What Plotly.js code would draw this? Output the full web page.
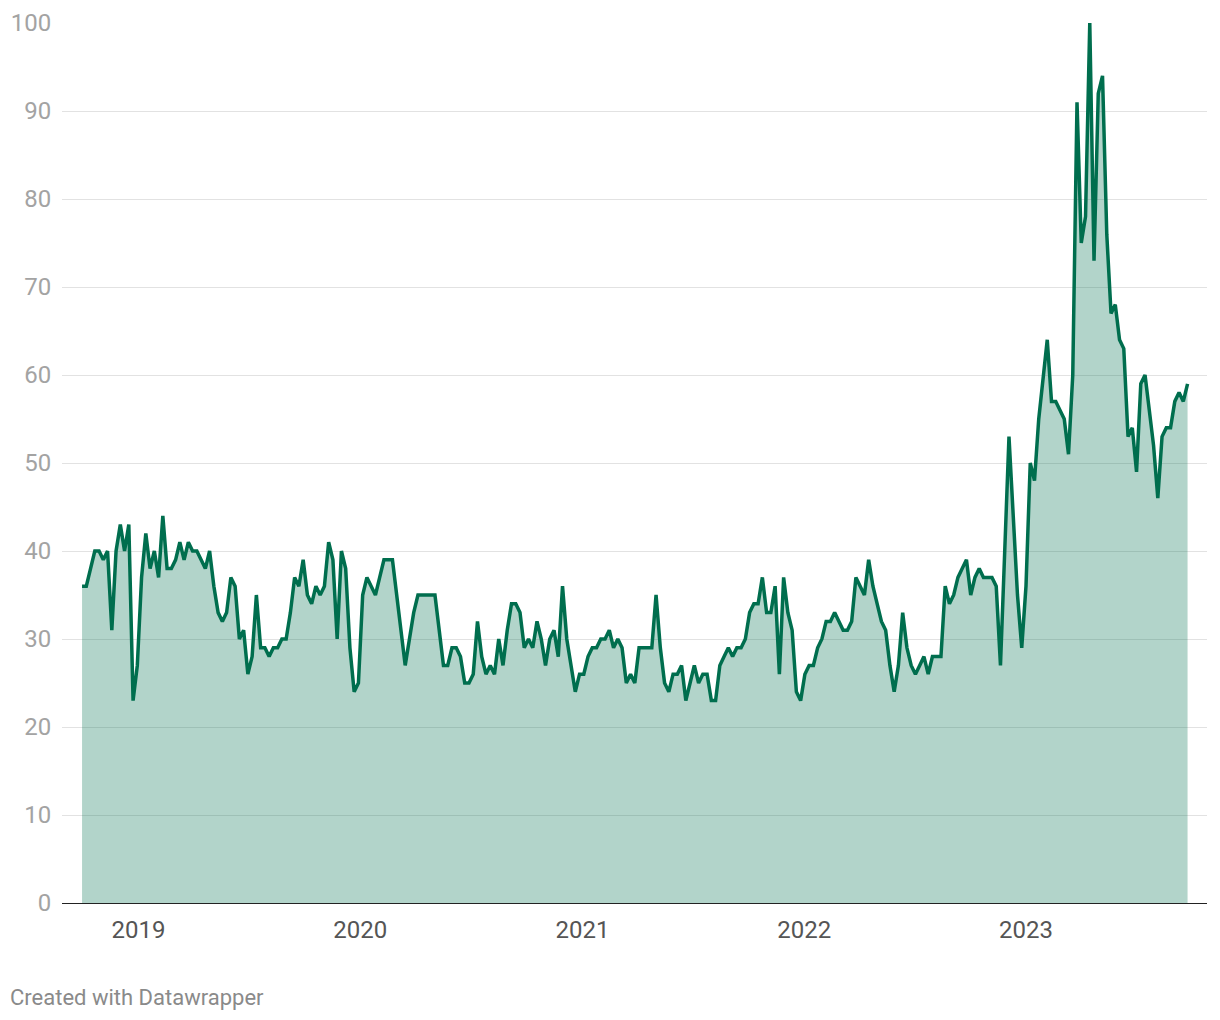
<!DOCTYPE html>
<html>
<head>
<meta charset="utf-8">
<script src="https://cdn.plot.ly/plotly-3.0.1.min.js"></script>
<style>
  html, body { margin: 0; padding: 0; background: #fff; }
  #chart { width: 1220px; height: 1020px; }
</style>
</head>
<body>
<div id="chart"></div>
<script>
// Weekly series (Google-Trends style index), first week starting 2018-09-30
const firstWeek = "2018-09-30";
const interest = [
  36,36,38,40,40,39,40,31,40,43,
  40,43,23,27,37,42,38,40,37,44,
  38,38,39,41,39,41,40,40,39,38,
  40,36,33,32,33,37,36,30,31,26,
  28,35,29,29,28,29,29,30,30,33,
  37,36,39,35,34,36,35,36,41,39,
  30,40,38,29,24,25,35,37,36,35,
  37,39,39,39,35,31,27,30,33,35,
  35,35,35,35,31,27,27,29,29,28,
  25,25,26,32,28,26,27,26,30,27,
  31,34,34,33,29,30,29,32,30,27,
  30,31,28,36,30,27,24,26,26,28,
  29,29,30,30,31,29,30,29,25,26,
  25,29,29,29,29,35,29,25,24,26,
  26,27,23,25,27,25,26,26,23,23,
  27,28,29,28,29,29,30,33,34,34,
  37,33,33,36,26,37,33,31,24,23,
  26,27,27,29,30,32,32,33,32,31,
  31,32,37,36,35,39,36,34,32,31,
  27,24,27,33,29,27,26,27,28,26,
  28,28,28,36,34,35,37,38,39,35,
  37,38,37,37,37,36,27,40,53,44,
  35,29,36,50,48,55,60,64,57,57,
  56,55,51,60,91,75,78,100,73,92,
  94,76,67,68,64,63,53,54,49,59,
  60,56,52,46,53,54,54,57,58,57,59
];
const yTicks = [0,10,20,30,40,50,60,70,80,90,100];
const xTickDates = ["2019-01-01","2020-01-01","2021-01-01","2022-01-01","2023-01-01"];
const xTickLabels = ["2019","2020","2021","2022","2023"];
const footer = "Created with Datawrapper";

const t0 = Date.parse(firstWeek + "T00:00:00Z");
const weeks = interest.map((_, i) => new Date(t0 + i * 7 * 86400000).toISOString().slice(0, 10));

const trace = {
  x: weeks,
  y: interest,
  type: "scatter",
  mode: "lines",
  line: { color: "#006e4e", width: 3.5 },
  fill: "tozeroy",
  fillcolor: "rgba(0,112,80,0.30)",
  cliponaxis: false,
  hoverinfo: "skip"
};

const layout = {
  width: 1220,
  height: 1020,
  margin: { l: 62, r: 13, t: 23, b: 117 },
  paper_bgcolor: "#ffffff",
  plot_bgcolor: "#ffffff",
  showlegend: false,
  font: { family: "Roboto, 'Noto Sans', sans-serif", size: 24, color: "#333" },
  xaxis: {
    type: "date",
    range: ["2018-08-28", "2023-10-26"],
    tickvals: xTickDates,
    ticktext: xTickLabels,
    showgrid: false,
    zeroline: false,
    showline: true,
    linecolor: "#222222",
    linewidth: 1,
    ticks: "outside",
    ticklen: 5,
    tickcolor: "rgba(0,0,0,0)",
    tickfont: { family: "Roboto, sans-serif", size: 24, color: "#555555" },
    fixedrange: true
  },
  yaxis: {
    range: [0, 100],
    tickvals: yTicks,
    ticktext: yTicks.map(String),
    showgrid: true,
    gridcolor: "#e2e2e2",
    gridwidth: 1,
    zeroline: false,
    showline: false,
    ticks: "outside",
    ticklen: 5,
    tickcolor: "rgba(0,0,0,0)",
    tickfont: { family: "Roboto, sans-serif", size: 24, color: "#a3a3a3" },
    fixedrange: true
  },
  annotations: [{
    text: footer,
    xref: "paper", yref: "paper",
    x: 0, y: 0,
    xshift: -54, yshift: -94,
    xanchor: "left", yanchor: "middle",
    showarrow: false,
    font: { family: "Roboto, sans-serif", size: 22, color: "#8a8a8a" }
  }],
  hovermode: false
};

Plotly.newPlot("chart", [trace], layout, { displayModeBar: false, staticPlot: true });
</script>
</body>
</html>
